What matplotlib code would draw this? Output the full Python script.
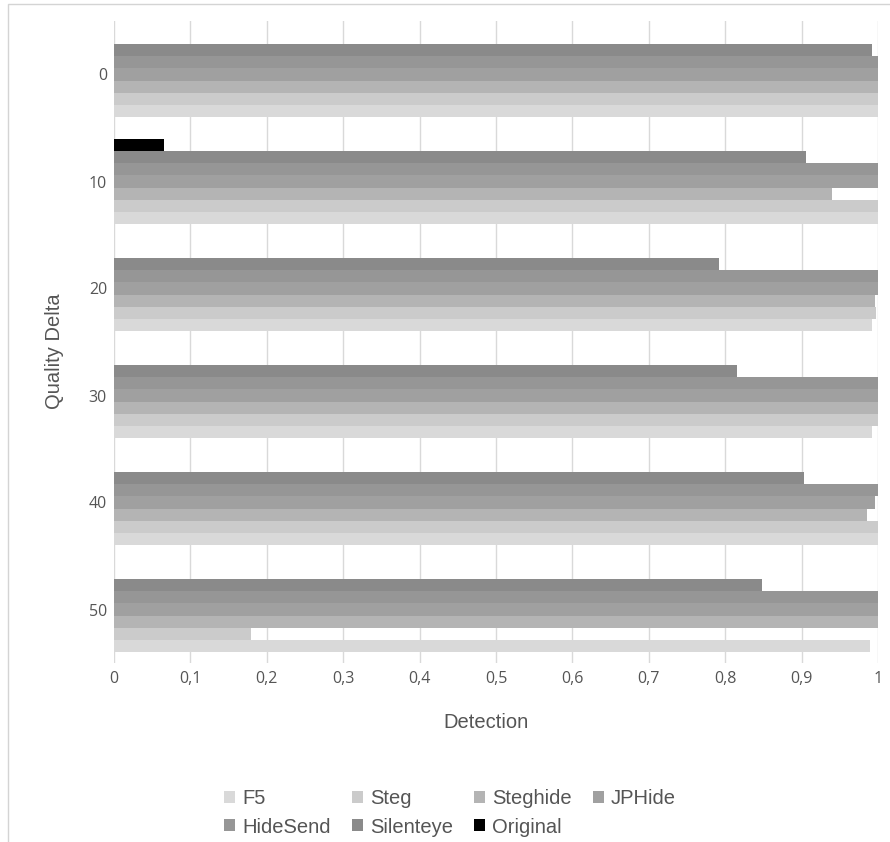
import matplotlib
matplotlib.use("Agg")
import matplotlib.pyplot as plt
from matplotlib.patches import Rectangle, Patch
import numpy as np

categories = ["0", "10", "20", "30", "40", "50"]
series_names = ["F5", "Steg", "Steghide", "JPHide", "HideSend", "Silenteye", "Original"]
f5 = [1.0, 1.0, 0.992, 0.992, 1.0, 0.99]
steg = [1.0, 1.0, 0.998, 1.0, 1.0, 0.179]
steghide = [1.0, 0.94, 0.996, 1.0, 0.986, 1.0]
jphide = [1.0, 1.0, 1.0, 1.0, 0.996, 1.0]
hidesend = [1.0, 1.0, 1.0, 1.0, 1.0, 1.0]
silenteye = [0.992, 0.906, 0.792, 0.816, 0.903, 0.848]
original = [0.0, 0.066, 0.0, 0.0, 0.0, 0.0]
xticks = [0, 0.1, 0.2, 0.3, 0.4, 0.5, 0.6, 0.7, 0.8, 0.9, 1.0]
xtick_labels = ["0", "0,1", "0,2", "0,3", "0,4", "0,5", "0,6", "0,7", "0,8", "0,9", "1"]

values = [f5, steg, steghide, jphide, hidesend, silenteye, original]
colors = ["#d9d9d9", "#cbcbcb", "#b4b4b4", "#a0a0a0", "#969696", "#8a8a8a", "#000000"]

W, H = 890, 842
fig = plt.figure(figsize=(W / 100, H / 100), dpi=100)
fig.patch.set_facecolor("white")

# outer frame
fig.patches.append(Rectangle((8 / W, -0.1), 1.2, 1 - 4 / H + 0.1, transform=fig.transFigure,
                             fill=False, edgecolor="#d4d4d4", linewidth=1.0))

ax = fig.add_axes([114 / W, 1 - 663 / H, (878 - 114) / W, (663 - 21) / H])
y = np.arange(len(categories))
h = 0.1135
for i, (name, vals, c) in enumerate(zip(series_names, values, colors)):
    ax.barh(y + (3 - i) * h, vals, height=h, color=c, edgecolor="none", label=name, zorder=2)

ax.set_xlim(0, 1)
ax.set_ylim(5.5, -0.5)
ax.set_xticks(xticks)
ax.set_xticklabels(xtick_labels)
ax.set_yticks(y)
ax.set_yticklabels(categories)
ax.grid(axis="x", color="#d9d9d9", linewidth=1.0, zorder=0)
ax.grid(axis="y", visible=False)
for s in ax.spines.values():
    s.set_visible(False)
ax.tick_params(axis="both", length=0, labelcolor="#555555", labelsize=11.5)
ax.tick_params(axis="x", pad=6)
ax.tick_params(axis="y", pad=5)
for lab in ax.get_xticklabels() + ax.get_yticklabels():
    lab.set_fontfamily("Open Sans")

fig.text(486 / W, 1 - 722 / H, "Detection", ha="center", va="center",
         fontsize=14.5, color="#555555", family="Liberation Sans")
fig.text(55 / W, 1 - 351 / H, "Quality Delta", ha="center", va="center", rotation=90,
         fontsize=14.5, color="#555555", family="Liberation Sans")

# legend in row-major order
order = [0, 4, 1, 5, 2, 6, 3]
handles = [Patch(facecolor=colors[k], edgecolor="none") for k in order]
labels = [series_names[k] for k in order]
leg = fig.legend(handles, labels, ncol=4, loc="center",
                 bbox_to_anchor=(450 / W, 1 - 813 / H), frameon=False,
                 prop={"family": "Liberation Sans", "size": 14.5},
                 handlelength=0.55, handleheight=0.55, handletextpad=0.35,
                 columnspacing=1.05, labelspacing=0.45, borderpad=0)
for t in leg.get_texts():
    t.set_color("#555555")

fig.savefig("out.png", dpi=100)
